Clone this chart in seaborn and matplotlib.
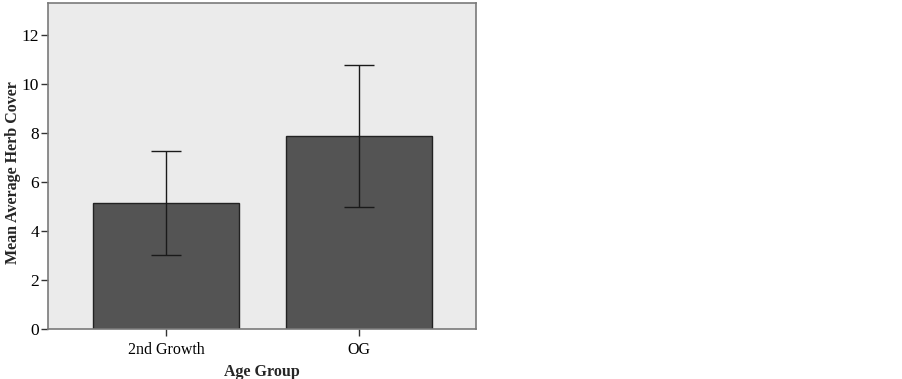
import numpy as np
import pandas as pd
import seaborn as sns
import matplotlib
matplotlib.use('Agg')
import matplotlib.pyplot as plt

# values
groups = ['2nd Growth', 'OG']
means = [5.16, 7.88]
err_low = [3.02, 4.99]
err_high = [7.27, 10.76]

df = pd.DataFrame({'Age Group': groups, 'Mean Average Herb Cover': means})

sns.set_style('ticks')
plt.rcParams['font.family'] = ['Liberation Serif', 'DejaVu Serif']

fig = plt.figure(figsize=(9.02, 3.79), dpi=100)
ax = fig.add_axes([0.0532, 0.1319, 0.4745, 0.8601])
ax.set_facecolor('#ebebeb')

sns.barplot(data=df, x='Age Group', y='Mean Average Herb Cover', ax=ax,
            color='#545454', saturation=1, width=0.755, errorbar=None,
            edgecolor='#222222', linewidth=1)

m = np.array(means)
yerr = [m - np.array(err_low), np.array(err_high) - m]
ax.errorbar(range(len(groups)), means, yerr=yerr, fmt='none',
            ecolor='#1a1a1a', elinewidth=1, capsize=10.8, capthick=1)

ax.set_xlim(-0.611, 1.606)
ax.set_ylim(0, 13.3)
ax.set_yticks([0, 2, 4, 6, 8, 10, 12])
for s in ax.spines.values():
    s.set_visible(True)
    s.set_color('#7a7a7a')
    s.set_linewidth(1.2)
ax.tick_params(axis='both', direction='out', length=5, width=1, color='#333333',
               labelcolor='black', pad=2)
ax.tick_params(axis='x', labelsize=11.5, pad=4)
ax.tick_params(axis='y', labelsize=12.5, pad=1.5)
ax.set_xlabel('Age Group', fontsize=11.5, fontweight='bold', labelpad=5)
ax.set_ylabel('Mean Average Herb Cover', fontsize=11.5, fontweight='bold')
ax.yaxis.set_label_coords(-0.064, 0.48)

fig.savefig('out.png', dpi=100)
